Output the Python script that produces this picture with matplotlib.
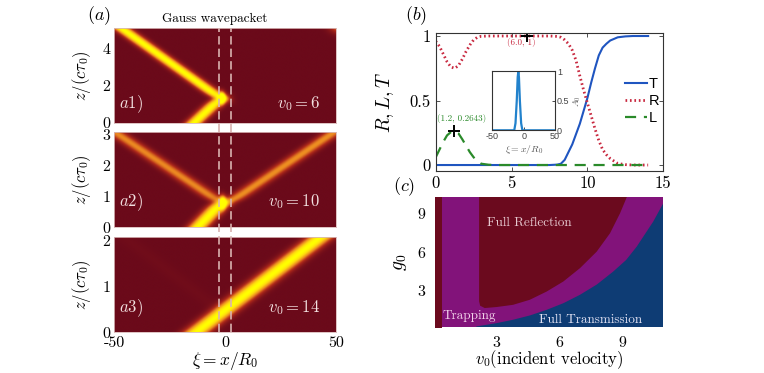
import numpy as np
import matplotlib
matplotlib.use("Agg")
import matplotlib.pyplot as plt
from matplotlib.colors import LinearSegmentedColormap
from matplotlib.lines import Line2D
import matplotlib.transforms as mtransforms

plt.rcParams['font.family'] = 'serif'
plt.rcParams['font.serif'] = ['cmr10', 'DejaVu Serif']
plt.rcParams['mathtext.fontset'] = 'cm'
plt.rcParams['axes.formatter.use_mathtext'] = True
plt.rcParams['axes.unicode_minus'] = False

# ---------------- data: panel (a) ----------------
a_zmax = [5.12, 3.08, 2.08]
a_v0 = [6, 10, 14]
a_ticks = [[0, 2, 4], [0, 1, 2, 3], [0, 1, 2]]
a_sigma = [2.6, 3.0, 3.8]
# beams: (x_ref, z_ref, slope dx/dz, z_from, z_to, amplitude)
a1_beams = [(-14.0, 0.0, 9.0, -1.0, 1.32, 1.0),
            (-2.3, 1.35, -11.8, 1.32, 10.0, 1.0)]
a2_beams = [(-12.2, 0.0, 13.5, -1.0, 0.8, 1.0),
            (-2.3, 0.8, -20.8, 0.8, 10.0, 0.5),
            (2.3, 0.8, 20.6, 0.8, 10.0, 0.52)]
a3_beams = [(-12.8, 0.0, 27.2, -1.0, 10.0, 1.0),
            (-2.0, 0.45, -27.0, 0.45, 10.0, 0.02)]
# bright spots: (x, z, amplitude, sx, sz)
a1_spots = [(-1.3, 1.35, 0.9, 1.0, 0.22), (53.0, 5.35, 0.8, 3.5, 0.3)]
a2_spots = [(-1.0, 0.8, 0.85, 1.0, 0.15)]
a3_spots = []
barrier_edges = [-2.5, 2.5]

# ---------------- data: panel (b) ----------------
b_x = [0, 0.25, 0.5, 0.75, 1.0, 1.25, 1.5, 1.75, 2.0, 2.25, 2.5, 2.75, 3.0, 3.5, 4, 5, 6, 7, 7.5,
       8, 8.25, 8.5, 8.75, 9, 9.25, 9.5, 9.75, 10, 10.25, 10.5, 10.75, 11, 11.25, 11.5, 12, 12.5, 13, 14]
b_R = [0.96, 0.92, 0.86, 0.80, 0.76, 0.75, 0.77, 0.82, 0.88, 0.93, 0.97, 0.99, 0.998, 1, 1, 1, 1, 1, 1,
       0.997, 0.99, 0.97, 0.94, 0.89, 0.81, 0.69, 0.58, 0.48, 0.38, 0.28, 0.19, 0.12, 0.08, 0.05, 0.012, 0.003, 0, 0]
b_T = [0, 0, 0, 0, 0, 0, 0, 0, 0, 0, 0, 0, 0, 0, 0, 0, 0, 0, 0,
       0.003, 0.01, 0.04, 0.10, 0.16, 0.24, 0.32, 0.42, 0.52, 0.64, 0.75, 0.85, 0.91, 0.94, 0.965, 0.99, 0.997, 1, 1]
b_L = [0.06, 0.12, 0.18, 0.23, 0.255, 0.264, 0.245, 0.20, 0.15, 0.10, 0.06, 0.03, 0.01, 0.002, 0, 0, 0, 0, 0,
       0, 0, 0, 0, 0, 0, 0, 0, 0, 0, 0, 0, 0, 0, 0, 0, 0, 0, 0]
b_marks = [(6.0, 1.0, "(6.0, 1)"), (1.2, 0.2643, "(1.2, 0.2643)")]
inset_x = [-50, -15, -13, -11, -9.5, -8.5, -7.5, -6, -4, -2, 50]
inset_A = [0, 0, 0.12, 0.5, 0.9, 1.0, 0.9, 0.5, 0.12, 0, 0]

# ---------------- data: panel (c) ----------------
strip_v = [0.05, 0.35]
trans_v = [1.9, 2.02, 3.0, 3.78, 4.6, 5.39, 6.2, 6.99, 7.8, 8.58, 9.2, 9.71, 10.1, 10.5, 10.98, 11.2]
trans_g = [0.0, 0.24, 0.5, 0.76, 1.1, 1.53, 2.05, 2.70, 3.5, 4.5, 5.4, 6.44, 7.4, 8.38, 9.8, 10.5]
refl_v = [2.15, 2.15, 2.2, 2.42, 3.0, 3.78, 4.58, 5.39, 6.19, 6.99, 7.79, 8.43, 8.91, 9.23, 9.4]
refl_g = [10.5, 2.2, 1.85, 1.67, 1.75, 1.92, 2.31, 2.95, 3.73, 4.77, 6.05, 7.48, 9.03, 10.27, 10.8]

# ---------------- figure ----------------
W, H = 764, 373
fig = plt.figure(figsize=(W / 100, H / 100), dpi=100)

def rect(l, t, r, b):
    return [l / W, 1 - b / H, (r - l) / W, (b - t) / H]

cmap = LinearSegmentedColormap.from_list(
    "wp", [(0.0, '#6b0a1a'), (0.25, '#b02a1a'), (0.5, '#ec8a22'), (0.78, '#ffd810'), (1.0, '#ffff00')])

def sig(u):
    return 1 / (1 + np.exp(-u))

a_rects = [rect(114.3, 28, 335.7, 122.7), rect(114.3, 132.3, 335.7, 227.3), rect(114.3, 237, 335.7, 332.3)]
a_beams = [a1_beams, a2_beams, a3_beams]
a_spots = [a1_spots, a2_spots, a3_spots]
a_label_y = [0.197, 0.27, 0.255]
txtc = '#f2e0e0'
axes_a = []
for i in range(3):
    ax = fig.add_axes(a_rects[i])
    zmax = a_zmax[i]
    xs = np.linspace(-50, 50, 500)
    zs = np.linspace(0, zmax, 300)
    X, Z = np.meshgrid(xs, zs)
    F = np.zeros_like(X)
    e = 0.02 * zmax
    for (xr, zr, s, zf, zt, amp) in a_beams[i]:
        c = xr + s * (Z - zr)
        F += amp * np.exp(-(X - c) ** 2 / (2 * a_sigma[i] ** 2)) * sig((Z - zf) / e) * sig((zt - Z) / e)
    for (xc, zc, amp, sx, sz) in a_spots[i]:
        F += amp * np.exp(-(X - xc) ** 2 / (2 * sx ** 2) - (Z - zc) ** 2 / (2 * sz ** 2))
    ax.imshow(np.clip(F, 0, 1), extent=[-50, 50, 0, zmax], origin='lower', aspect='auto',
              cmap=cmap, vmin=0, vmax=1, interpolation='bilinear')
    ax.set_xlim(-50, 50)
    ax.set_ylim(0, zmax)
    ax.set_yticks(a_ticks[i])
    ax.set_yticklabels([str(t) for t in a_ticks[i]], fontsize=11.5)
    ax.tick_params(length=0, pad=3)
    ax.set_ylabel(r'$z/(c\tau_0)$', fontsize=12)
    ax.yaxis.set_label_coords(-0.095, 0.5)
    for sp in ax.spines.values():
        sp.set_color('#d8b8b8')
        sp.set_linewidth(0.6)
    if i < 2:
        ax.set_xticks([])
    else:
        ax.set_xticks([-50, 0, 50])
        ax.set_xticklabels(['-50', '0', '50'], fontsize=11.5)
        ax.tick_params(axis='x', pad=3)
        ax.set_xlabel(r'$\xi = x/R_0$', fontsize=12.5)
        ax.xaxis.set_label_coords(0.5, -0.19)
    ax.text(0.021, a_label_y[i], r'$a%d)$' % (i + 1), transform=ax.transAxes, color=txtc,
            fontsize=12, va='center', ha='left')
    ax.text(0.93, a_label_y[i], r'$v_0 = %d$' % a_v0[i], transform=ax.transAxes, color=txtc,
            fontsize=12, va='center', ha='right')
    axes_a.append(ax)

# dashed barrier lines spanning all three panels
for xe in barrier_edges:
    tr = mtransforms.blended_transform_factory(axes_a[2].transData, fig.transFigure)
    fig.add_artist(Line2D([xe, xe], [1 - 332.3 / H, 1 - 28 / H], transform=tr, color='#d9b3b0',
                          lw=1.2, linestyle=(0, (5, 2.5))))

fig.text(99 / W, 1 - 16 / H, r'$(a)$', fontsize=13, ha='center', va='center')
fig.text(215 / W, 1 - 19 / H, 'Gauss wavepacket', fontsize=9.5, ha='center', va='center')

# ---------------- panel (b) ----------------
axb = fig.add_axes(rect(435.7, 33.3, 663.3, 170.7))
axb.plot(b_x, b_T, color='#1f55c0', lw=1.5, label='T')
axb.plot(b_x, b_R, color='#c8283f', lw=2.0, linestyle=(0, (0.6, 1.0)), label='R')
axb.plot(b_x, b_L, color='#2a8a2a', lw=1.6, linestyle=(0, (5, 3.5)), label='L')
axb.set_xlim(0, 15)
axb.set_ylim(-0.044, 1.021)
axb.set_xticks([0, 5, 10, 15])
axb.set_xticklabels(['0', '5', '10', '15'])
axb.set_yticks([0, 0.5, 1])
axb.set_yticklabels(['0', '0.5', '1'])
axb.tick_params(direction='in', top=True, right=True, labelsize=12, length=3, width=0.6,
                color='#333333')
for sp in axb.spines.values():
    sp.set_color('#333333')
    sp.set_linewidth(0.8)
axb.set_ylabel(r'$R, L, T$', fontsize=14, labelpad=4)
axb.yaxis.set_label_coords(-0.175, 0.5)
for (mx, my, lab), col, dx, dy in zip(b_marks, ['#c8283f', '#2a8a2a'], [-0.33, 0.51], [-0.052, 0.098]):
    axb.plot([mx], [my], marker='+', color='black', ms=8, mew=1.4, linestyle='none')
    axb.text(mx + dx, my + dy, lab, color=col, fontsize=6.5, ha='center', va='center')
leg = axb.legend(loc='center left', bbox_to_anchor=(625 / W, 1 - 101 / H),
                 bbox_transform=fig.transFigure, frameon=False, borderpad=0, borderaxespad=0,
                 handlelength=1.5, handletextpad=0.15, labelspacing=0.2,
                 prop={'family': 'Liberation Sans', 'size': 10.5})
fig.text(416 / W, 1 - 16 / H, r'$(b)$', fontsize=13, ha='center', va='center')

# inset
axi = fig.add_axes(rect(492.3, 71.3, 555, 130.3))
axi.plot(inset_x, inset_A, color='#2282cc', lw=1.6)
axi.set_xlim(-50, 50)
axi.set_ylim(0, 1)
axi.set_xticks([-50, 0, 50])
axi.set_xticklabels(['-50', '0', '50'])
axi.set_yticks([0, 0.5, 1])
axi.set_yticklabels(['0', '0.5', '1'])
axi.yaxis.tick_right()
axi.tick_params(direction='in', labelsize=6.5, length=2, width=0.5, pad=1.5, labelcolor='#444444')
for lbl in axi.get_xticklabels() + axi.get_yticklabels():
    lbl.set_family('Liberation Sans')
for sp in axi.spines.values():
    sp.set_color('#333333')
    sp.set_linewidth(0.8)
axi.set_xlabel(r'$\xi = x/R_0$', fontsize=7, color='#555555', labelpad=1)
axi.yaxis.set_label_position('right')
axi.set_ylabel(r'$A_0$', fontsize=6.5, color='#555555', labelpad=1, rotation=90)

# ---------------- panel (c) ----------------
axc = fig.add_axes(rect(435.3, 197.3, 663, 326.7))
c_red, c_pur, c_blue = '#6b0a1e', '#82137a', '#0e3c74'
axc.set_facecolor(c_blue)
pv = [strip_v[0], strip_v[0], trans_v[0]] + trans_v[1:] + [trans_v[-1] + 1, strip_v[0]]
pg = [12, -1, -1] + trans_g[1:] + [12, 12]
axc.fill(pv, pg, color=c_pur, lw=0)
axc.fill_betweenx([-1, 12], strip_v[0], strip_v[1], color=c_red, lw=0)
axc.fill(refl_v, refl_g, color=c_red, lw=0)
axc.set_xlim(0.05, 10.97)
axc.set_ylim(0.22, 10.27)
axc.set_xticks([3, 6, 9])
axc.set_xticklabels(['3', '6', '9'])
axc.set_yticks([3, 6, 9])
axc.set_yticklabels(['3', '6', '9'])
axc.tick_params(length=0, labelsize=11.5, pad=7)
for sp in axc.spines.values():
    sp.set_visible(False)
axc.set_ylabel(r'$g_0$', fontsize=14, labelpad=6)
axc.set_xlabel(r'$v_0$(incident velocity)', fontsize=12, labelpad=-1)
axc.text(4.58, 8.25, 'Full Reflection', color='#e6c8cf', fontsize=9.5, ha='center', va='center')
axc.text(1.70, 1.07, 'Trapping', color='#f2d2ea', fontsize=9.5, ha='center', va='center')
axc.text(7.5, 0.76, 'Full Transmission', color='#dfe0f2', fontsize=9.5, ha='center', va='center')
fig.text(404 / W, 1 - 187 / H, r'$(c)$', fontsize=13, ha='center', va='center')

fig.savefig('out.png', dpi=100)
